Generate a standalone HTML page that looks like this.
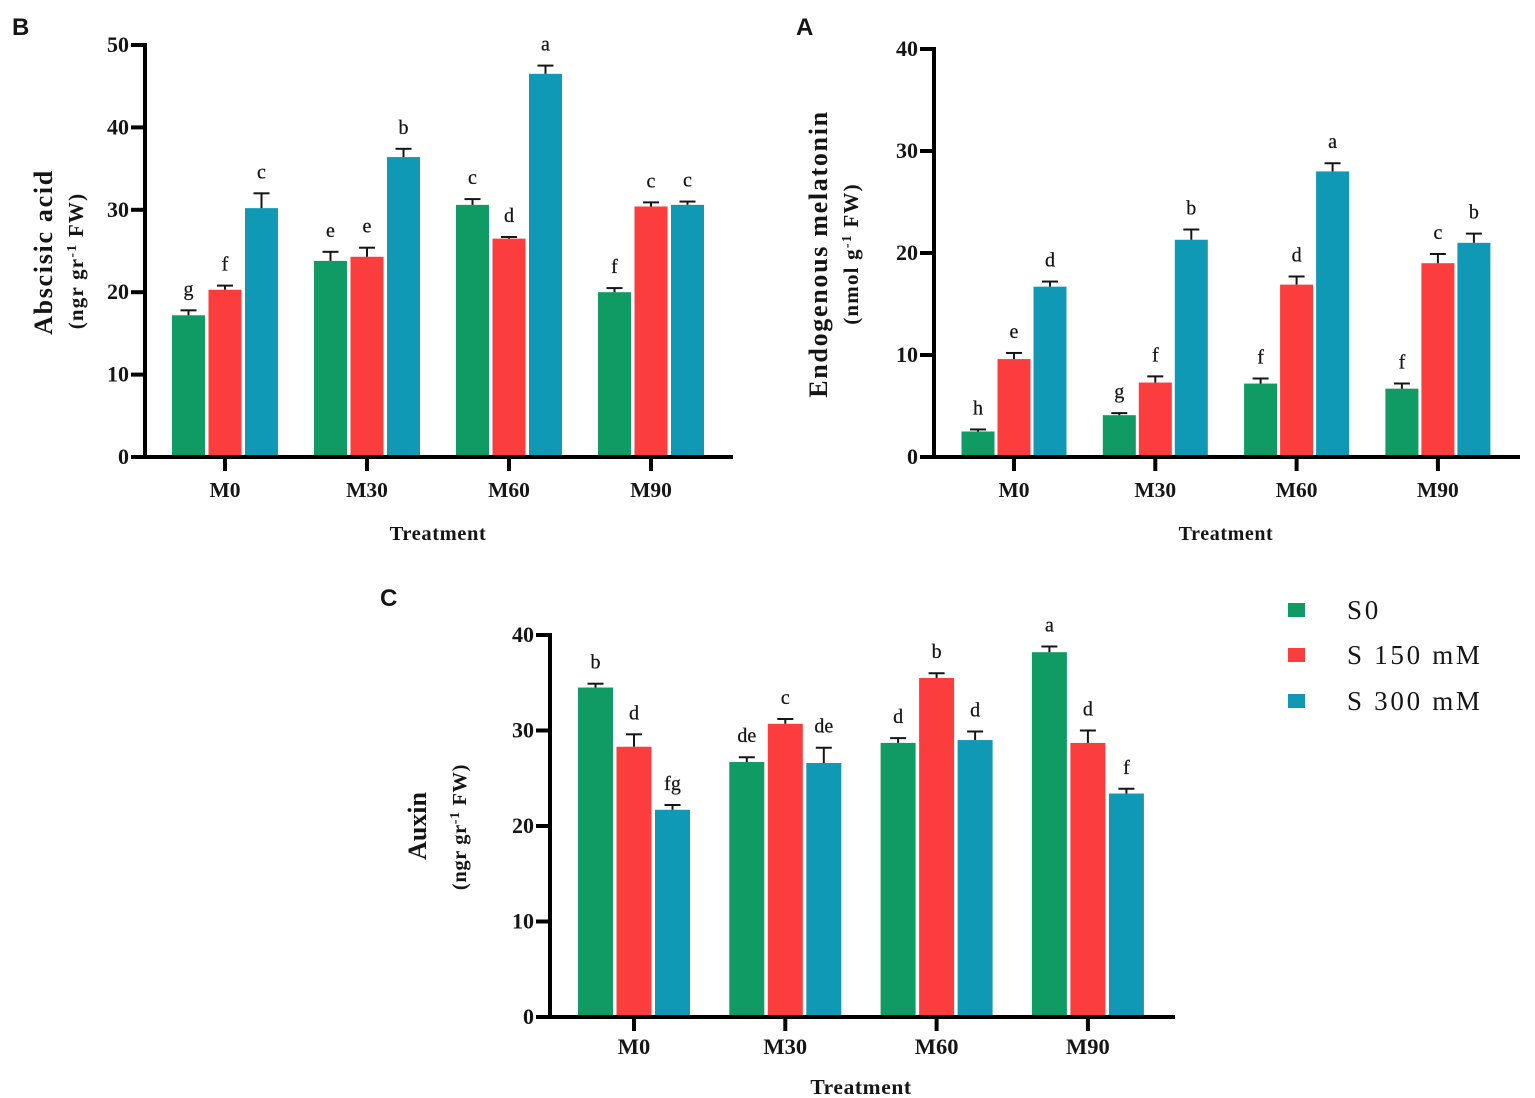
<!DOCTYPE html>
<html lang="en">
<head>
<meta charset="utf-8">
<title>Hormone levels by treatment</title>
<style>
html,body{margin:0;padding:0;background:#fff;}
svg{display:block;font-family:"Liberation Serif",serif;filter:blur(.35px);}
text{fill:#151515;}
.tick{font-weight:bold;font-size:22px;}
.sig{font-size:20px;stroke:#151515;stroke-width:.25px;}
.cat{font-weight:bold;font-size:21px;}
.xt{font-weight:bold;font-size:20.5px;letter-spacing:.6px;}
.yt{font-weight:bold;font-size:26px;letter-spacing:1.7px;}
.ys{font-weight:bold;font-size:21px;letter-spacing:1.2px;}
.panel{font-family:"Liberation Sans",sans-serif;font-weight:bold;font-size:24px;}
.leg{font-size:27px;letter-spacing:2.7px;}
</style>
</head>
<body>
<svg id="fig" width="1535" height="1098" viewBox="0 0 1535 1098" xmlns="http://www.w3.org/2000/svg">
<text class="panel" x="12" y="35">B</text>
<text class="panel" x="796" y="35">A</text>
<text class="panel" x="380" y="606">C</text>

<text class="yt" transform="translate(52,252) rotate(-90)" text-anchor="middle">Abscisic acid</text>
<text class="ys" transform="translate(83,261) rotate(-90)" text-anchor="middle">(ngr gr<tspan dy="-7" font-size="14">-1</tspan><tspan dy="7"> FW)</tspan></text>

<text class="yt" transform="translate(827,254) rotate(-90)" text-anchor="middle">Endogenous melatonin</text>
<text class="ys" transform="translate(858,254) rotate(-90)" text-anchor="middle">(nmol g<tspan dy="-7" font-size="14">-1</tspan><tspan dy="7"> FW)</tspan></text>

<text class="yt" transform="translate(426,826) rotate(-90)" text-anchor="middle" style="letter-spacing:0">Auxin</text>
<text class="ys" transform="translate(466,827) rotate(-90)" text-anchor="middle" style="font-size:20.5px;letter-spacing:.6px">(ngr gr<tspan dy="-7" font-size="14">-1</tspan><tspan dy="7"> FW)</tspan></text>

<g>
<g>
<rect x="1288" y="603" width="17" height="14" fill="#0f9b63"/>
<text class="leg" x="1347" y="619">S0</text>
</g>
<g>
<rect x="1288" y="648" width="17" height="14" fill="#fb3d3e"/>
<text class="leg" x="1347" y="664">S 150 mM</text>
</g>
<g>
<rect x="1288" y="694" width="17" height="14" fill="#0f99b5"/>
<text class="leg" x="1347" y="710">S 300 mM</text>
</g>
</g>
</svg>
<script>
const categories = ["M0", "M30", "M60", "M90"];
const seriesKeys = ["s0", "s150", "s300"];

const abscisicTicks = [0, 10, 20, 30, 40, 50];
const abscisicS0 = [17.2, 23.8, 30.6, 20.0];
const abscisicS150 = [20.3, 24.3, 26.5, 30.4];
const abscisicS300 = [30.2, 36.4, 46.5, 30.6];
const abscisicErrS0 = [0.6, 1.1, 0.7, 0.5];
const abscisicErrS150 = [0.5, 1.1, 0.2, 0.5];
const abscisicErrS300 = [1.8, 1.0, 1.0, 0.4];
const abscisicSigS0 = ["g", "e", "c", "f"];
const abscisicSigS150 = ["f", "e", "d", "c"];
const abscisicSigS300 = ["c", "b", "a", "c"];

const melatoninTicks = [0, 10, 20, 30, 40];
const melatoninS0 = [2.5, 4.1, 7.2, 6.7];
const melatoninS150 = [9.6, 7.3, 16.9, 19.0];
const melatoninS300 = [16.7, 21.3, 28.0, 21.0];
const melatoninErrS0 = [0.2, 0.2, 0.5, 0.5];
const melatoninErrS150 = [0.6, 0.6, 0.8, 0.9];
const melatoninErrS300 = [0.5, 1.0, 0.8, 0.9];
const melatoninSigS0 = ["h", "g", "f", "f"];
const melatoninSigS150 = ["e", "f", "d", "c"];
const melatoninSigS300 = ["d", "b", "a", "b"];

const auxinTicks = [0, 10, 20, 30, 40];
const auxinS0 = [34.5, 26.7, 28.7, 38.2];
const auxinS150 = [28.3, 30.7, 35.5, 28.7];
const auxinS300 = [21.7, 26.6, 29.0, 23.4];
const auxinErrS0 = [0.4, 0.5, 0.5, 0.6];
const auxinErrS150 = [1.3, 0.5, 0.5, 1.3];
const auxinErrS300 = [0.5, 1.6, 0.9, 0.5];
const auxinSigS0 = ["b", "de", "d", "a"];
const auxinSigS150 = ["d", "c", "b", "d"];
const auxinSigS300 = ["fg", "de", "d", "f"];

const colors = ["#0f9b63", "#fb3d3e", "#0f99b5"];
const NS = "http://www.w3.org/2000/svg";
const svg = document.getElementById("fig");

function shape(parent, tag, attrs, content) {
  const el = document.createElementNS(NS, tag);
  for (const k in attrs) el.setAttribute(k, attrs[k]);
  if (content !== undefined) el.textContent = content;
  parent.appendChild(el);
  return el;
}

function drawPanel(cfg) {
  const g = shape(svg, "g", {});
  
  
  const yMax = cfg.ticks[cfg.ticks.length - 1];
  const yScale = function (v) { return cfg.y0 - (v / yMax) * (cfg.y0 - cfg.yTop); };
  const xScale = function (i) { return cfg.first + i * cfg.step; };

  cfg.values.forEach(function (series, s) {
    series.forEach(function (v, i) {
      const cx = xScale(i) + (s - 1) * cfg.offset;
      const top = yScale(v);
      const errTop = yScale(v + cfg.errors[s][i]);

      const bar = shape(g, "rect", { x: cx - cfg.barW / 2, y: top, width: cfg.barW, height: cfg.y0 - top, fill: colors[s] });
      
      

      const stem = shape(g, "line", { x1: cx, x2: cx, y1: top, y2: errTop, stroke: "#151515", "stroke-width": 2 });
      
      

      const cap = shape(g, "line", { x1: cx - 8, x2: cx + 8, y1: errTop, y2: errTop, stroke: "#151515", "stroke-width": 2 });
      
      

      const sig = shape(g, "text", { class: "sig", x: cx, y: errTop - 15, "text-anchor": "middle" }, cfg.sig[s][i]);
      
      
    });
  });

  const yAxis = shape(g, "line", { x1: cfg.axisX, x2: cfg.axisX, y1: cfg.yTop - 2, y2: cfg.y0 + 2, stroke: "#000", "stroke-width": 4 });
  
  

  const xAxis = shape(g, "line", { x1: cfg.axisX - 2, x2: cfg.axisEnd, y1: cfg.y0, y2: cfg.y0, stroke: "#000", "stroke-width": 4 });
  
  

  cfg.ticks.forEach(function (t) {
    const y = yScale(t);
    const mark = shape(g, "line", { x1: cfg.axisX - 14, x2: cfg.axisX, y1: y, y2: y, stroke: "#000", "stroke-width": 4 });
    
    

    const label = shape(g, "text", { class: "tick", x: cfg.axisX - 16, y: y + 7, "text-anchor": "end" }, String(t));
    
    
  });

  categories.forEach(function (c, i) {
    const x = xScale(i);
    const mark = shape(g, "line", { x1: x, x2: x, y1: cfg.y0, y2: cfg.y0 + 14, stroke: "#000", "stroke-width": 4 });
    
    

    const label = shape(g, "text", { class: "cat", x: x, y: cfg.y0 + cfg.catGap, "text-anchor": "middle", style: "font-size:" + cfg.catSize + "px" }, c);
    
    
  });

  const title = shape(g, "text", { class: "xt", x: cfg.titleX, y: cfg.titleY, "text-anchor": "middle", style: "font-size:" + cfg.titleSize + "px" }, "Treatment");
  
  
}

drawPanel({
  name: "abscisic", ticks: abscisicTicks,
  values: [abscisicS0, abscisicS150, abscisicS300],
  errors: [abscisicErrS0, abscisicErrS150, abscisicErrS300],
  sig: [abscisicSigS0, abscisicSigS150, abscisicSigS300],
  axisX: 145, axisEnd: 733, y0: 457, yTop: 45,
  first: 225, step: 142, offset: 36.5, barW: 33, titleX: 438, titleY: 540,
  catGap: 40, catSize: 21.5, titleSize: 20.5
});
drawPanel({
  name: "melatonin", ticks: melatoninTicks,
  values: [melatoninS0, melatoninS150, melatoninS300],
  errors: [melatoninErrS0, melatoninErrS150, melatoninErrS300],
  sig: [melatoninSigS0, melatoninSigS150, melatoninSigS300],
  axisX: 934, axisEnd: 1520, y0: 457, yTop: 49,
  first: 1014, step: 141.3, offset: 36, barW: 33, titleX: 1226, titleY: 540,
  catGap: 40, catSize: 21.5, titleSize: 20
});
drawPanel({
  name: "auxin", ticks: auxinTicks,
  values: [auxinS0, auxinS150, auxinS300],
  errors: [auxinErrS0, auxinErrS150, auxinErrS300],
  sig: [auxinSigS0, auxinSigS150, auxinSigS300],
  axisX: 550, axisEnd: 1175, y0: 1017, yTop: 635,
  first: 634, step: 151.3, offset: 38.5, barW: 35, titleX: 861, titleY: 1094,
  catGap: 37, catSize: 22.5, titleSize: 21.5
});
</script>
</body>
</html>
